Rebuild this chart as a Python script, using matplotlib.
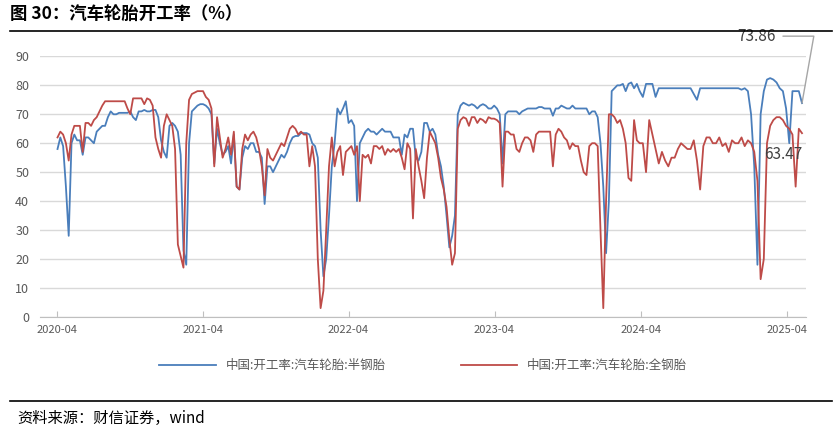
import matplotlib.pyplot as plt
import matplotlib.dates as mdates
import numpy as np
import pandas as pd

plt.rcParams['font.family'] = ['Noto Sans CJK SC', 'DejaVu Sans']

# weekly values per year segment
semi_y1 = [58, 62, 59, 45, 28, 60, 63, 61, 61, 56, 62, 62, 61, 60, 64, 65, 66, 66, 69, 71,
           70, 70, 70.5, 70.5, 70.5, 70.5, 71, 69, 68, 71, 71, 71.5, 71, 71, 71.5, 71.5, 69, 61,
           57, 55, 66, 67, 66, 64, 56, 23, 18, 60, 71, 72, 73, 73.5]
all_y1 = [62, 64, 63, 60, 54, 63, 66, 66, 66, 57, 67, 67, 66, 68, 69, 71, 73, 74.5, 74.5, 74.5,
          74.5, 74.5, 74.5, 74.5, 74.5, 72, 70, 75.5, 75.5, 75.5, 75.5, 73.5, 75.5, 75, 73, 62, 58,
          55, 66, 70, 68, 66, 58, 25, 21, 17, 60, 75, 77, 77.5, 78, 78]
semi_y2 = [73.5, 73, 72, 70, 53, 65, 60, 56, 57, 59, 53, 63, 45, 44, 55, 59, 58, 60, 60, 57,
           57, 55, 39, 52, 52, 50, 52, 54, 56, 55, 57, 60, 62, 62.5, 62.5, 63.5, 63.5, 63.5, 63, 60,
           59, 55, 30, 14, 20, 35, 52, 60, 72, 70, 72, 74.5]
all_y2 = [78, 76, 75, 72, 52, 69, 62, 55, 58, 62, 56, 64, 45, 44, 58, 63, 61, 63, 64, 62,
          58, 52, 42, 58, 55, 54, 56, 58, 60, 59, 62, 65, 66, 65, 63, 64, 63, 63, 52, 59,
          52, 20, 3, 9, 30, 52, 62, 52, 57, 59, 49, 57]
semi_y3 = [67, 68, 66, 40, 60, 62, 64, 65, 64, 64, 63, 64, 65, 64, 64, 64, 62, 62, 62, 56,
           63, 62, 65, 65, 55, 54, 57, 67, 67, 64, 65, 63, 56, 52, 45, 35, 24, 28, 35, 70,
           73, 74, 73.5, 73, 73.5, 73, 72, 73, 73.5, 73, 72, 72]
all_y3 = [58, 59, 56, 59, 40, 56, 55, 56, 53, 59, 59, 58, 59, 56, 58, 57, 58, 57, 58, 55,
          51, 60, 58, 34, 58, 52, 47, 41, 55, 64, 62, 60, 55, 48, 44, 38, 27, 18, 22, 65,
          68, 69, 68.5, 66, 69, 69, 67, 68.5, 68, 67, 69, 68.5]
semi_y4 = [73, 72, 70, 53, 70, 71, 71, 71, 71, 70, 71, 71.5, 72, 72, 72, 72, 72.5, 72.5, 72, 72,
           72, 69.5, 72, 72, 73, 72.5, 72, 72, 73, 72, 72, 72, 72, 72, 70, 71, 71, 69, 60, 45,
           22, 40, 78, 79, 80, 80, 80.5, 78, 80.5, 81, 79, 80.5]
all_y4 = [68.5, 68, 67, 45, 64, 64, 63, 63, 58, 57, 60, 62, 62, 61, 57, 63, 64, 64, 64, 64,
          64, 52, 63, 65, 64, 62, 61, 58, 60, 59, 59, 54, 50, 49, 59, 60, 60, 59, 30, 3,
          40, 70, 70, 69, 67, 68, 65, 60, 48, 47, 68, 61]
semi_y5 = [78, 76, 80.5, 80.5, 80.5, 76, 79, 79, 79, 79, 79, 79, 79, 79, 79, 79, 79, 77, 75, 79,
           79, 79, 79, 79, 79, 79, 79, 79, 79, 79, 79, 79, 78.5, 79, 78, 70, 52, 18, 70, 78,
           82, 82.5, 82, 81, 79, 78, 72, 60, 78, 78, 78, 73.86]
all_y5 = [60, 60, 50, 68, 63, 58, 53, 57, 54, 52, 55, 55, 58, 60, 59, 58, 58, 61, 54, 44,
          59, 62, 62, 60, 60, 62, 59, 60, 57, 61, 60, 60, 62, 59, 61, 60, 57, 47, 13, 20,
          60, 66, 68, 69, 69, 68, 66, 65, 63, 45, 65, 63.47]

anchors = ['2020-04-03', '2021-04-02', '2022-04-01', '2023-03-31', '2024-03-29', '2025-05-09']
semi = [semi_y1, semi_y2, semi_y3, semi_y4, semi_y5]
allsteel = [all_y1, all_y2, all_y3, all_y4, all_y5]

dates = []
for i, seg in enumerate(semi):
    d = pd.date_range(anchors[i], anchors[i + 1], periods=len(seg) + (1 if i < 4 else 0))
    dates.extend(d[:len(seg)])
dates = pd.DatetimeIndex(dates)
semi_v = np.concatenate(semi)
all_v = np.concatenate(allsteel)

blue = '#4a7ebb'
red = '#be4b48'

fig = plt.figure(figsize=(8.4, 4.34), dpi=100)
ax = fig.add_axes([0.048, 0.27, 0.912, 0.6])
ax.plot(dates, semi_v, color=blue, lw=1.3, label='中国:开工率:汽车轮胎:半钢胎')
ax.plot(dates, all_v, color=red, lw=1.3, label='中国:开工率:汽车轮胎:全钢胎')

ax.set_ylim(0, 90)
ax.set_yticks(range(0, 91, 10))
ax.set_xlim(pd.Timestamp('2020-02-20'), pd.Timestamp('2025-05-20'))
ax.set_xticks(pd.to_datetime(['2020-04-01', '2021-04-01', '2022-04-01', '2023-04-01', '2024-04-01', '2025-04-01']))
ax.xaxis.set_major_formatter(mdates.DateFormatter('%Y-%m'))
ax.grid(axis='y', color='#d9d9d9', lw=1)
ax.set_axisbelow(True)
for s in ['top', 'right', 'left']:
    ax.spines[s].set_visible(False)
ax.spines['bottom'].set_color('#bfbfbf')
ax.tick_params(axis='y', length=0, labelsize=9, colors='#595959', pad=8)
ax.tick_params(axis='x', length=4, direction='in', color='#bfbfbf', labelsize=8, colors='#595959', pad=6)

ax.annotate('73.86', xy=(dates[-1], semi_v[-1]), xytext=(pd.Timestamp('2025-03-05'), 97),
            textcoords='data', annotation_clip=False,
            fontsize=11, color='#404040', ha='right', va='center',
            arrowprops=dict(arrowstyle='-', color='#a6a6a6', lw=1, shrinkA=3, shrinkB=0,
                            connectionstyle='angle,angleA=0,angleB=80,rad=0'))
ax.text(dates[-1], 56, '63.47', fontsize=11, color='#404040', ha='right', va='center')

ax.legend(loc='upper center', bbox_to_anchor=(0.5, -0.12), ncol=2, frameon=False,
          fontsize=9, handlelength=4.5, columnspacing=6, labelcolor='#595959')

fig.text(0.012, 0.965, '图 30：汽车轮胎开工率（%）', fontsize=12.5, fontweight='bold', va='center')
fig.add_artist(plt.Line2D([0.012, 0.99], [0.928, 0.928], color='black', lw=1.2))
fig.add_artist(plt.Line2D([0.012, 0.99], [0.075, 0.075], color='black', lw=1.2))
fig.text(0.02, 0.035, '资料来源：财信证券，wind', fontsize=11, style='italic', va='center')

fig.savefig('out.png', dpi=100)
